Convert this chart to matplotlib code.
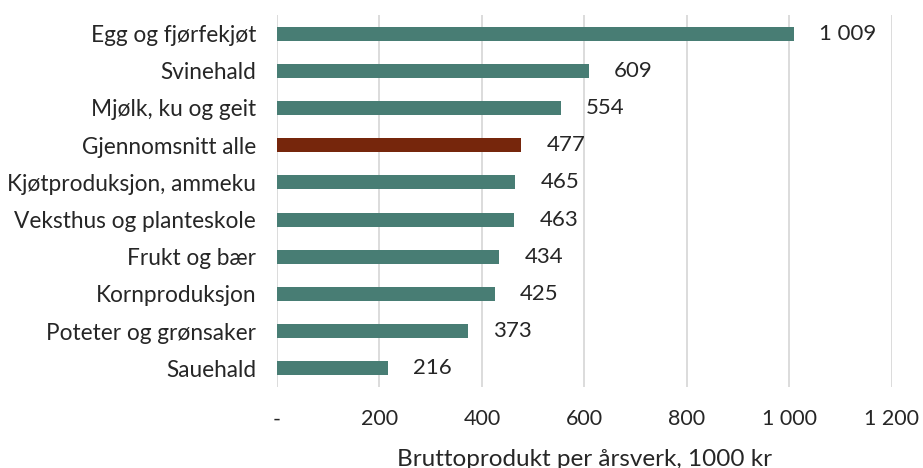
import matplotlib
matplotlib.use("Agg")
import matplotlib.pyplot as plt
from matplotlib.ticker import FuncFormatter

categories = ["Egg og fjørfekjøt", "Svinehald", "Mjølk, ku og geit",
              "Gjennomsnitt alle", "Kjøtproduksjon, ammeku",
              "Veksthus og planteskole", "Frukt og bær", "Kornproduksjon",
              "Poteter og grønsaker", "Sauehald"]
values = [1009, 609, 554, 477, 465, 463, 434, 425, 373, 216]
highlight = "Gjennomsnitt alle"

TEAL = "#487d74"
BROWN = "#76260c"
TEXT = "#262626"


def fmt_num(v, pos=None):
    if v == 0:
        return "-"
    return f"{int(round(v)):,}".replace(",", " ")


plt.rcParams["font.family"] = ["Lato", "DejaVu Sans"]

fig = plt.figure(figsize=(9.23, 4.68), dpi=100)
ax = fig.add_axes([0.3001, 0.1731, 0.6663, 0.7949])

ypos = list(range(len(categories)))
colors = [BROWN if c == highlight else TEAL for c in categories]
ax.barh(ypos, values, height=0.38, color=colors, zorder=3)

for y, v in zip(ypos, values):
    ax.annotate(fmt_num(v), (v, y), xytext=(18, 0), textcoords="offset points",
                va="center", ha="left", fontsize=16, color=TEXT)

ax.set_ylim(len(categories) - 0.5, -0.5)
ax.set_xlim(0, 1200)
ax.set_xticks(range(0, 1201, 200))
ax.xaxis.set_major_formatter(FuncFormatter(fmt_num))
ax.set_yticks(ypos)
ax.set_yticklabels(categories)

ax.grid(axis="x", color="#d9d9d9", linewidth=1.3, zorder=0)
for s in ax.spines.values():
    s.set_visible(False)
ax.tick_params(axis="x", length=0, pad=16, labelsize=15.5, labelcolor=TEXT)
ax.tick_params(axis="y", length=0, pad=15, labelsize=16.3, labelcolor=TEXT)
ax.set_xlabel("Bruttoprodukt per årsverk, 1000 kr", fontsize=17.5,
              color=TEXT, labelpad=14)

fig.savefig("out.png", dpi=100)
